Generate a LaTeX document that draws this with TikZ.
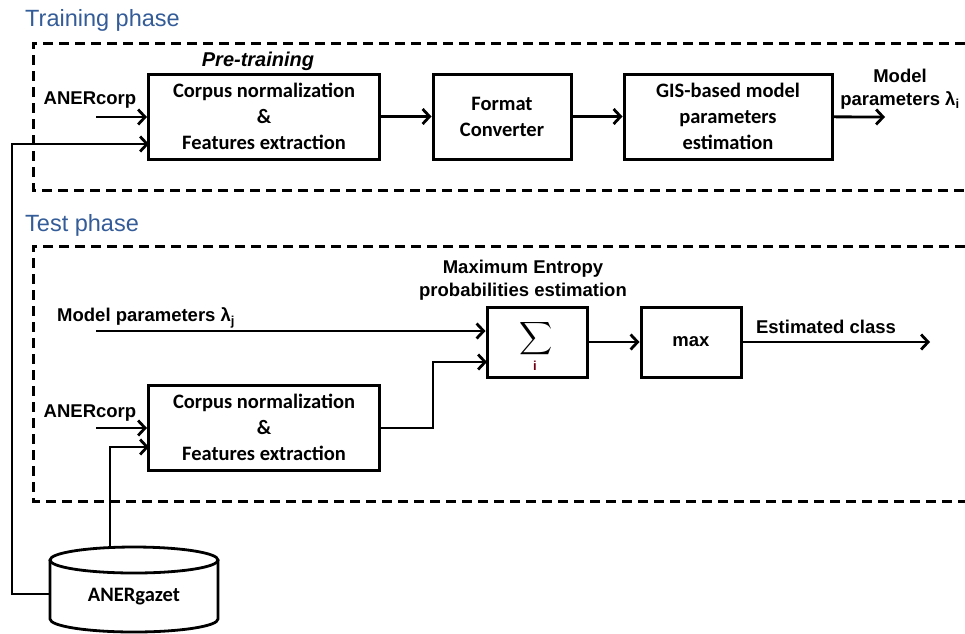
\documentclass[tikz,border=0pt]{standalone}
\usepackage{fontspec}
\setmainfont{Liberation Sans}
\newfontfamily\calfont{Carlito}
\usetikzlibrary{arrows.meta}
\definecolor{phaseblue}{RGB}{52,92,152}
\definecolor{sumred}{RGB}{110,0,20}
\begin{document}
\begin{tikzpicture}[x=1pt,y=-1pt,
  box/.style={draw, line width=3pt, inner sep=0pt, align=center,
    font=\calfont\bfseries\fontsize{20.5}{26}\selectfont},
  lbl/.style={inner sep=0pt, align=center, font=\bfseries\fontsize{18.5}{23}\selectfont},
  phase/.style={inner sep=0pt, anchor=west, text=phaseblue, font=\fontsize{23.5}{26}\selectfont},
  conn/.style={line width=2.8pt},
  arr/.style={line width=2.8pt, -{Straight Barb[length=7pt,width=15pt]}},
  dashbox/.style={line width=3pt, dash pattern=on 10pt off 6pt}]
\useasboundingbox (0,0) rectangle (965,633);

% ---------- Training phase ----------
\node[phase] (tp) at (25,20) {Training phase};
\draw[dashbox] (965,43) -- (33,43) -- (33,190) -- (965,190);
\node[lbl, font=\bfseries\itshape\fontsize{20}{24}\selectfont] (pre) at (258,61) {Pre-training};
\node[box, minimum width=231pt, minimum height=85pt] (b1) at (264,116.5)
  {Corpus normalization\\\&\\Features extraction};
\node[box, minimum width=138pt, minimum height=85pt] (b2) at (502,116.5)
  {Format\\Converter};
\node[box, minimum width=208pt, minimum height=85pt] (b3) at (728,116.5)
  {GIS-based model\\parameters\\estimation};
\node[lbl] (ac1) at (90,100) {ANERcorp};
\node[lbl] (mpo) at (900,89) {Model\\parameters λ\textsubscript{i}};
\coordinate (ac1s) at (96,117);
\coordinate (mpe) at (885,117);
\draw[arr] (ac1s) -- (b1.west |- ac1s);
\draw[arr] (b1) -- (b2);
\draw[arr] (b2) -- (b3);
\draw[arr] (b3) -- (mpe);

% ---------- Test phase ----------
\node[phase] (tsp) at (25,225) {Test phase};
\draw[dashbox] (965,246) -- (33,246) -- (33,501) -- (965,501);
\node[lbl] (me) at (523,280) {Maximum Entropy\\probabilities estimation};
\node[box, minimum width=100pt, minimum height=70pt] (sig) at (537,342) {};
\node[inner sep=0pt] (sgm) at (536,339) {\scalebox{2.3}{$\displaystyle\sum$}};
\node[inner sep=0pt, text=sumred, font=\bfseries\fontsize{13}{13}\selectfont] (sgi) at (535,366) {i};
\node[box, font=\bfseries\fontsize{18.5}{22}\selectfont, minimum width=100pt, minimum height=70pt] (mx) at (691,342) {max};
\node[lbl] (ec) at (826,327) {Estimated class};
\coordinate (ece) at (930,342);
\draw[arr] (sig) -- (mx);
\draw[arr] (mx) -- (ece);

\node[lbl, anchor=west] (mpj) at (57,318) {Model parameters λ\textsubscript{j}};
\coordinate (mpjs) at (96,331);
\draw[arr] (mpjs) -- (sig.west |- mpjs);

\node[box, minimum width=231pt, minimum height=85pt] (b1t) at (264,427.5)
  {Corpus normalization\\\&\\Features extraction};
\node[lbl] (ac2) at (90,413) {ANERcorp};
\coordinate (ac2s) at (96,428);
\draw[arr] (ac2s) -- (b1t.west |- ac2s);
\coordinate (sigin) at (487,362);
\coordinate (elb) at (433,428);
\draw[arr] (b1t.east |- elb) -- (elb) |- (sigin);

% ---------- Gazetteer ----------
\draw[conn, fill=white] (50,560) -- (50,619)
  arc[start angle=180, end angle=360, x radius=84pt, y radius=13pt] -- (218,560);
\draw[conn, fill=white] (134,560) ellipse [x radius=84pt, y radius=13pt];
\node[inner sep=0pt, font=\calfont\bfseries\fontsize{20.5}{24}\selectfont] (gz) at (134,597) {ANERgazet};
\coordinate (gtop) at (110,547.5);
\coordinate (gleft) at (50,594);
\coordinate (gcorner) at (12,594);
\coordinate (gin1) at (149,447);
\coordinate (gin2) at (149,144);
\draw[arr] (gtop) |- (gin1);
\draw[arr] (gleft) -- (gcorner) |- (gin2);
\end{tikzpicture}
\end{document}
